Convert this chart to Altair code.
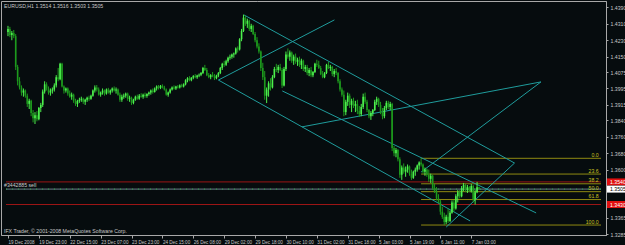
import altair as alt
import pandas as pd

HEADER = "EURUSD,H1  1.3514 1.3516 1.3503 1.3505"
FOOTER = "IFX Trader, © 2001-2008 MetaQuotes Software Corp."
ORDER_LABEL = "#3442885 sell"

# hourly bars, prices in pips (x 0.0001)
OPEN = [14270,14285,14255,14265,14250,14100,14030,14000,13975,13985,
        13960,13920,13935,13875,13850,13865,13845,13900,13915,13980,
        14015,13995,13975,13985,13990,14010,14050,14040,14115,14005,
        13985,13995,13970,13955,13965,13935,13920,13935,13940,13945,
        13930,13940,13950,13945,13960,13985,14000,13990,13965,13975,
        13985,13970,13990,13975,13985,13995,13985,13990,13965,13940,
        13955,13960,13970,13945,13950,13925,13940,13955,13945,13960,
        13955,13965,13958,13968,13975,13985,13978,13995,14005,13998,
        14008,14000,13990,13965,13975,13990,14000,13995,14005,14000,
        14010,14005,14015,14035,14045,14035,14048,14055,14050,14058,
        14062,14070,14095,14085,14060,14050,14060,14055,14045,14058,
        14070,14095,14115,14110,14128,14145,14150,14160,14165,14190,
        14185,14235,14275,14340,14310,14325,14285,14300,14260,14230,
        14200,14175,14095,14050,13960,13990,14020,14000,14050,14090,
        14085,14100,14085,14010,14090,14160,14150,14170,14130,14150,
        14125,14135,14110,14130,14090,14100,14070,14085,14060,14075,
        14115,14110,14095,14065,14050,14070,14110,14095,14100,14065,
        14080,14070,14030,13990,13965,13880,13930,13960,13915,13935,
        13910,13920,13885,13870,13905,13955,13930,13890,13860,13875,
        13890,13930,13945,13915,13880,13860,13900,13925,13905,13920,
        13705,13680,13695,13650,13575,13610,13590,13600,13615,13580,
        13560,13590,13600,13620,13635,13625,13590,13600,13575,13555,
        13570,13510,13495,13460,13445,13395,13370,13345,13370,13350,
        13390,13440,13410,13470,13490,13470,13510,13525,13500,13515,
        13495,13520,13455,13490,13514]
HIGH = [14300,14295,14275,14280,14260,14110,14050,14010,13995,13990,
        13970,13945,13940,13890,13880,13885,13905,13925,13990,14030,
        14025,14005,13995,14000,14020,14060,14095,14120,14120,14010,
        14000,14000,13985,13975,13970,13945,13940,13950,13955,13950,
        13945,13955,13960,13965,13990,14010,14012,14000,13980,13995,
        13990,13995,13998,13990,14000,14005,14000,13995,13975,13965,
        13970,13975,13975,13960,13955,13945,13960,13965,13968,13972,
        13970,13975,13972,13980,13990,13995,14000,14010,14012,14012,
        14015,14008,13995,13980,13995,14005,14010,14008,14012,14015,
        14018,14020,14040,14050,14055,14050,14060,14065,14062,14068,
        14075,14100,14110,14095,14070,14065,14075,14065,14062,14075,
        14100,14120,14130,14135,14150,14160,14165,14170,14195,14200,
        14240,14285,14355,14350,14335,14330,14310,14305,14270,14245,
        14215,14180,14120,14080,14000,14030,14045,14060,14100,14115,
        14110,14115,14095,14100,14175,14190,14180,14175,14160,14165,
        14145,14150,14140,14135,14110,14110,14095,14100,14080,14120,
        14135,14130,14105,14080,14075,14115,14125,14110,14105,14090,
        14095,14075,14040,14000,13985,13940,13975,13970,13945,13950,
        13935,13940,13910,13920,13970,13975,13940,13895,13885,13895,
        13940,13955,13950,13930,13900,13910,13935,13935,13930,13925,
        13715,13705,13700,13660,13620,13630,13615,13625,13620,13600,
        13595,13610,13625,13640,13655,13630,13610,13605,13600,13580,
        13575,13530,13515,13480,13452,13420,13390,13380,13410,13400,
        13450,13452,13480,13500,13500,13520,13535,13530,13525,13520,
        13530,13525,13500,13540,13516]
LOW = [14250,14245,14230,14240,14085,14010,13990,13960,13955,13950,
       13905,13895,13860,13830,13822,13835,13840,13880,13905,13970,
       13985,13965,13960,13970,13980,14000,14030,14035,14000,13970,
       13975,13960,13950,13940,13925,13910,13905,13925,13930,13920,
       13915,13930,13935,13940,13955,13975,13980,13960,13955,13965,
       13960,13965,13970,13965,13975,13980,13970,13960,13930,13930,
       13945,13950,13935,13930,13915,13918,13935,13940,13940,13950,
       13945,13950,13950,13960,13965,13970,13975,13985,13990,13992,
       13995,13985,13960,13955,13970,13985,13990,13988,13995,13995,
       14000,14000,14010,14025,14030,14030,14040,14045,14042,14050,
       14055,14065,14080,14055,14045,14040,14050,14036,14040,14050,
       14065,14085,14100,14105,14120,14135,14140,14145,14160,14170,
       14180,14225,14270,14300,14290,14275,14270,14255,14220,14190,
       14165,14080,14036,13940,13924,13955,13985,13995,14045,14075,
       14070,14080,13997,14005,14080,14140,14130,14120,14110,14115,
       14105,14100,14090,14080,14075,14060,14055,14050,14050,14070,
       14100,14090,14060,14045,14045,14065,14090,14080,14055,14050,
       14060,14020,13980,13955,13860,13865,13910,13900,13880,13900,
       13880,13870,13856,13860,13895,13920,13880,13850,13842,13860,
       13885,13915,13905,13870,13845,13850,13890,13895,13890,13690,
       13665,13660,13640,13560,13550,13580,13565,13585,13570,13550,
       13555,13570,13590,13600,13615,13580,13570,13565,13540,13535,
       13500,13486,13450,13437,13380,13360,13330,13335,13340,13345,
       13385,13395,13405,13440,13460,13465,13495,13490,13486,13490,
       13488,13440,13430,13485,13503]
CLOSE = [14285,14255,14265,14250,14100,14030,14000,13975,13985,13960,
         13920,13935,13875,13850,13865,13845,13900,13915,13980,14015,
         13995,13975,13985,13990,14010,14050,14040,14115,14005,13985,
         13995,13970,13955,13965,13935,13920,13935,13940,13945,13930,
         13940,13950,13945,13960,13985,14000,13990,13965,13975,13985,
         13970,13990,13975,13985,13995,13985,13990,13965,13940,13955,
         13960,13970,13945,13950,13925,13940,13955,13945,13960,13955,
         13965,13958,13968,13975,13985,13978,13995,14005,13998,14008,
         14000,13990,13965,13975,13990,14000,13995,14005,14000,14010,
         14005,14015,14035,14045,14035,14048,14055,14050,14058,14062,
         14070,14095,14085,14060,14050,14060,14055,14045,14058,14070,
         14095,14115,14110,14128,14145,14150,14160,14165,14190,14185,
         14235,14275,14340,14310,14325,14285,14300,14260,14230,14200,
         14175,14095,14050,13960,13990,14020,14000,14050,14090,14085,
         14100,14085,14010,14090,14160,14150,14170,14130,14150,14125,
         14135,14110,14130,14090,14100,14070,14085,14060,14075,14115,
         14110,14095,14065,14050,14070,14110,14095,14100,14065,14080,
         14070,14030,13990,13965,13880,13930,13960,13915,13935,13910,
         13920,13885,13870,13905,13955,13930,13890,13860,13875,13890,
         13930,13945,13915,13880,13860,13900,13925,13905,13920,13705,
         13680,13695,13650,13575,13610,13590,13600,13615,13580,13560,
         13590,13600,13620,13635,13625,13590,13600,13575,13555,13570,
         13510,13495,13460,13445,13395,13370,13345,13370,13350,13390,
         13440,13410,13470,13490,13470,13510,13525,13500,13515,13495,
         13520,13455,13490,13514,13505]

TIME_TICKS = [0, 16, 32, 48, 64, 80, 96, 112, 128, 144, 160, 176, 192, 208, 224, 240]
TIME_LABELS = ["19 Dec 2008", "19 Dec 23:00", "22 Dec 15:00", "23 Dec 07:00",
               "23 Dec 23:00", "24 Dec 15:00", "26 Dec 08:00", "29 Dec 02:00",
               "29 Dec 18:00", "30 Dec 10:00", "31 Dec 02:00", "31 Dec 18:00",
               "5 Jan 03:00", "5 Jan 19:00", "6 Jan 11:00", "7 Jan 03:00"]
PRICE_TICKS = [1.4390, 1.4310, 1.4230, 1.4150, 1.4075, 1.3995, 1.3915, 1.3840,
               1.3760, 1.3680, 1.3600, 1.3520, 1.3445, 1.3365, 1.3285]
HIDDEN_TICKS = ["1.3520", "1.3445"]   # covered by the price boxes

# Fibonacci retracement object
FIB_NAMES = ["0.0", "23.6", "38.2", "50.0", "61.8", "100.0"]
FIB_RATIOS = [0.0, 0.236, 0.382, 0.5, 0.618, 1.0]
FIB_HIGH = 1.3655
FIB_LOW = 1.3330
FIB_START = 214

# trend lines (bar index, price)
TREND_X1 = [109.0, 122.3, 109.0, 142.1, 152.3, 276.1, 262.4]
TREND_Y1 = [1.4036, 1.4353, 1.4036, 1.3983, 1.3808, 1.4027, 1.3632]
TREND_X2 = [169.1, 262.4, 239.4, 273.6, 276.1, 214.0, 227.0]
TREND_Y2 = [1.4329, 1.3632, 1.3350, 1.3389, 1.4027, 1.3588, 1.3320]

RED_LEVELS = [1.3540, 1.3430]
BID = 1.3505

XMIN, XMAX = -1.02, 307.2
YMIN, YMAX = 1.32815, 1.4421

BG = "#060c0e"
FRAME = "#a8a8a8"
TXT = "#c8c8c8"
FONT = "Liberation Sans"
FS = 5.2
FSX = 4.6

n = len(CLOSE)
bars = pd.DataFrame({
    "i": list(range(n)),
    "open": [v / 10000 for v in OPEN],
    "high": [v / 10000 for v in HIGH],
    "low": [v / 10000 for v in LOW],
    "close": [v / 10000 for v in CLOSE],
})
bars["body"] = ["#4cf04c" if c >= o else "#1d9a1d" for o, c in zip(OPEN, CLOSE)]

xs = alt.Scale(domain=[XMIN, XMAX], nice=False, zero=False)
ys = alt.Scale(domain=[YMIN, YMAX], nice=False, zero=False)

label_expr = "[" + ",".join("'" + t + "'" for t in TIME_LABELS) + "][round(datum.value/16)]"
hidden_expr = " || ".join("format(datum.value, '.4f') == '%s'" % h for h in HIDDEN_TICKS)
y_label_expr = "(" + hidden_expr + ") ? '' : format(datum.value, '.4f')"

x_axis = alt.Axis(values=TIME_TICKS, labelExpr=label_expr, labelAlign="left",
                  labelFlush=False, labelOverlap=False, labelFontSize=FSX, labelFont=FONT,
                  labelColor=TXT, tickColor=FRAME, tickSize=3, domainColor=FRAME,
                  grid=False, title=None, labelPadding=1, labelBound=False)
y_axis = alt.Axis(orient="right", values=PRICE_TICKS, labelExpr=y_label_expr, labelFontSize=FS,
                  labelFont=FONT, labelColor=TXT, tickColor=FRAME, tickSize=2,
                  domainColor=FRAME, grid=False, title=None, labelPadding=2,
                  labelOverlap=False, labelFlush=False, labelBound=False)


def X(field):
    return alt.X(field, scale=xs, axis=x_axis)


def Y(field):
    return alt.Y(field, scale=ys, axis=y_axis)


wicks = alt.Chart(bars).mark_rule(strokeWidth=1).encode(
    x=X("i:Q"), y=Y("low:Q"), y2="high:Q",
    color=alt.Color("body:N", scale=None),
)
bodies = alt.Chart(bars).mark_bar(size=1.6).encode(
    x=X("i:Q"), y=Y("open:Q"), y2="close:Q",
    color=alt.Color("body:N", scale=None),
)

# horizontal levels across the chart
red_df = pd.DataFrame({"p": RED_LEVELS, "x1": [XMIN] * len(RED_LEVELS), "x2": [XMAX] * len(RED_LEVELS)})
red_lines = alt.Chart(red_df).mark_rule(color="#9b1515", strokeWidth=1).encode(
    x=X("x1:Q"), x2="x2:Q", y=Y("p:Q"))
bid_df = pd.DataFrame({"p": [BID], "x1": [XMIN], "x2": [XMAX]})
bid_line = alt.Chart(bid_df).mark_rule(color="#6a7f8c", strokeWidth=1).encode(
    x=X("x1:Q"), x2="x2:Q", y=Y("p:Q"))
order_line = alt.Chart(bid_df).mark_rule(color="#2fae4a", strokeWidth=1, strokeDash=[1, 5]).encode(
    x=X("x1:Q"), x2="x2:Q", y=Y("p:Q"))

# fibonacci
fib_df = pd.DataFrame({
    "name": FIB_NAMES,
    "p": [FIB_HIGH - r * (FIB_HIGH - FIB_LOW) for r in FIB_RATIOS],
    "x1": [FIB_START] * len(FIB_NAMES),
    "x2": [XMAX] * len(FIB_NAMES),
    "xl": [XMAX - 1.2] * len(FIB_NAMES),
})
fib_lines = alt.Chart(fib_df).mark_rule(color="#8f8a12", strokeWidth=1).encode(
    x=X("x1:Q"), x2="x2:Q", y=Y("p:Q"))
fib_text = alt.Chart(fib_df).mark_text(align="right", baseline="bottom", dy=-0.5, fontSize=FS,
                                        font=FONT, color="#c8c020").encode(
    x=X("xl:Q"), y=Y("p:Q"), text="name:N")

# trend lines
tr_df = pd.DataFrame({"x1": TREND_X1, "y1": TREND_Y1, "x2": TREND_X2, "y2": TREND_Y2})
trends = alt.Chart(tr_df).mark_rule(color="#1f9c9c", strokeWidth=1, clip=True).encode(
    x=X("x1:Q"), x2="x2:Q", y=Y("y1:Q"), y2="y2:Q")

# right axis price boxes
box_df = pd.DataFrame({
    "p": RED_LEVELS + [BID],
    "t": ["%.4f" % v for v in RED_LEVELS] + ["%.4f" % BID],
    "fill": ["#e01010", "#e01010", "#ffffff"],
    "ink": ["#ffffff", "#ffffff", "#000000"],
})
boxes = alt.Chart(box_df).mark_rule(strokeWidth=7).encode(
    x=alt.value(606), x2=alt.value(626), y=Y("p:Q"),
    color=alt.Color("fill:N", scale=None))
box_text = alt.Chart(box_df).mark_text(align="left", baseline="middle", fontSize=FS, font=FONT).encode(
    x=alt.value(609), y=Y("p:Q"), text="t:N",
    color=alt.Color("ink:N", scale=None))

# texts
lbl_df = pd.DataFrame({"t": [HEADER]})
header = alt.Chart(lbl_df).mark_text(align="left", baseline="middle", fontSize=FS, font=FONT, color=TXT).encode(
    x=alt.value(3), y=alt.value(5), text="t:N")
foot_df = pd.DataFrame({"t": [FOOTER]})
footer = alt.Chart(foot_df).mark_text(align="left", baseline="middle", fontSize=FS, font=FONT, color=TXT).encode(
    x=alt.value(3), y=alt.value(230), text="t:N")
ord_df = pd.DataFrame({"t": [ORDER_LABEL], "p": [BID]})
order_text = alt.Chart(ord_df).mark_text(align="left", baseline="bottom", dy=-1, fontSize=FS, font=FONT, color=TXT).encode(
    x=alt.value(3), y=Y("p:Q"), text="t:N")

chart = alt.layer(
    red_lines, bid_line, order_line, fib_lines, trends, wicks, bodies,
    fib_text, order_text, header, footer, boxes, box_text,
).properties(
    width=605, height=234, background=BG,
    autosize=alt.AutoSizeParams(type="none"),
    padding={"left": 1, "top": 1, "right": 19, "bottom": 10},
).configure_view(stroke=FRAME, strokeWidth=1, fill=BG)

chart.save("out.html", embed_options={"renderer": "svg", "actions": False})
